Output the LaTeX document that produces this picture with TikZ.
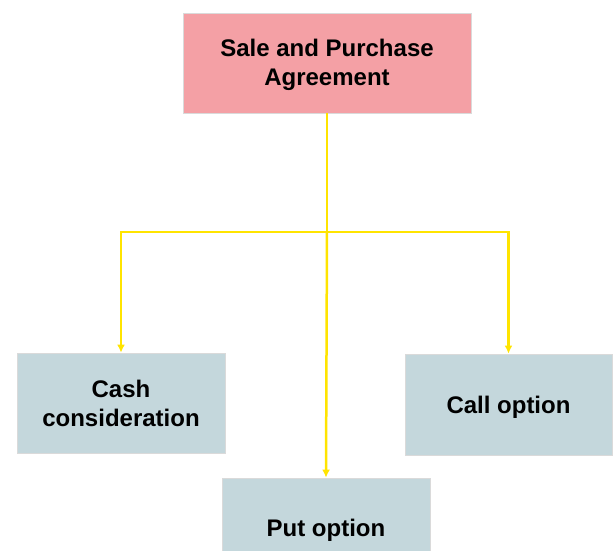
\documentclass[tikz,border=0pt]{standalone}
\usepackage{fontspec}
\setmainfont{Liberation Sans}
\usetikzlibrary{arrows.meta}
\definecolor{pinkfill}{HTML}{F4A0A5}
\definecolor{bluefill}{HTML}{C4D7DC}
\definecolor{edgegray}{HTML}{DADADA}
\definecolor{linkyellow}{HTML}{FFE400}
\tikzset{
  boxstyle/.style={draw=edgegray, line width=0.8pt, inner sep=0pt, align=center,
    font=\fontsize{24}{29}\selectfont\bfseries},
  topbox/.style={boxstyle, fill=pinkfill},
  leafbox/.style={boxstyle, fill=bluefill},
  link/.style={draw=linkyellow, line width=2.5pt},
  arrowlink/.style={link, -{Latex[length=8pt,width=8pt]}}
}
\begin{document}
\begin{tikzpicture}[x=1pt,y=-1pt]
\useasboundingbox (0,0) rectangle (614,550);
\clip (0,0) rectangle (614,550);
\node[topbox, minimum width=288pt, minimum height=100pt] (top) at (327,63) {\raisebox{-2pt}[\height][\depth]{\begin{tabular}{@{}c@{}}Sale and Purchase\\[0pt]Agreement\end{tabular}}};
\node[leafbox, minimum width=208pt, minimum height=100pt] (cash) at (121,403) {Cash\\consideration};
\node[leafbox, minimum width=207pt, minimum height=101pt] (call) at (508.5,404.5) {\raisebox{-3pt}[\height][\depth]{Call option}};
\node[leafbox, minimum width=208pt, minimum height=100pt, text depth=0pt] (put) at (326,528) {};
\node[font=\fontsize{24}{29}\selectfont\bfseries, anchor=base] (putlabel) at (326,536) {Put option};
\coordinate (j) at (327,232);
\draw[link] (top.south) -- (j);
\draw[arrowlink] (j) -| (cash.north);
\draw[arrowlink] (j) -| (call.north);
\draw[arrowlink] (j) -- (put.north);
\end{tikzpicture}
\end{document}
